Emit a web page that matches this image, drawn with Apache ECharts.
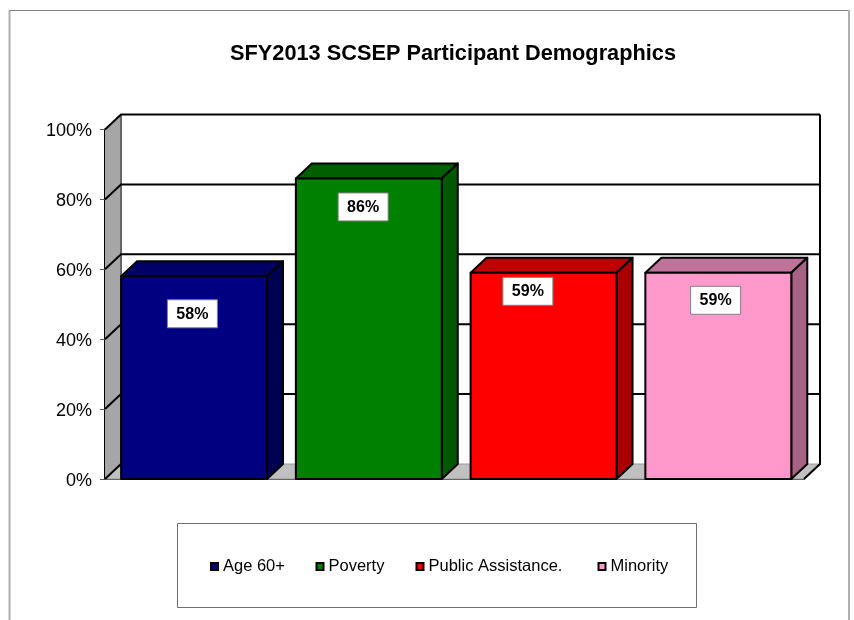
<!DOCTYPE html>
<html>
<head>
<meta charset="utf-8">
<title>SFY2013 SCSEP Participant Demographics</title>
<script src="https://cdn.jsdelivr.net/npm/echarts@6/dist/echarts.min.js"></script>
<style>
  html, body { margin: 0; padding: 0; background: #fff; }
  #chart { width: 854px; height: 620px; }
</style>
</head>
<body>
<div id="chart"></div>
<script>
var categories = ['Age 60+', 'Poverty', 'Public Assistance.', 'Minority'];
var values = [58, 86, 59, 59];
var yTicks = [0, 20, 40, 60, 80, 100];

var frontColors = ['#000080', '#008000', '#ff0000', '#ff99cc'];
var topColors = ['#000066', '#006000', '#c00000', '#c0739a'];
var sideColors = ['#000050', '#005800', '#a80000', '#a66385'];

// label box offset below the top of each bar, and to the side of its centre
var labelDrop = [38, 29, 19, 28];
var labelShift = [0, -4, -14, -1];
var legendLeft = [210, 315.5, 415.5, 597.5];

var DX = 16, DY = -15;
var FONT = '"Liberation Sans", Arial, sans-serif';

var myChart = echarts.init(document.getElementById('chart'));

function renderWall(params, api) {
    var v = api.value(0);
    var cs = params.coordSys;
    var y = api.coord([0, v])[1];
    var left = cs.x, right = cs.x + cs.width;
    var lineStyle = { stroke: '#000', lineWidth: 2, fill: null };
    var children = [];
    if (v === 0) {
        var top = api.coord([0, 100])[1];
        children.push({
            type: 'polygon',
            shape: { points: [[left, y], [left + DX, y + DY], [left + DX, top + DY], [left, top]] },
            style: { fill: '#a6a6a6' }
        });
        children.push({
            type: 'polygon',
            shape: { points: [[left, y], [left + DX, y + DY], [right + DX, y + DY], [right, y]] },
            style: { fill: '#c0c0c0', stroke: '#999', lineWidth: 1 }
        });
        children.push({
            type: 'polyline',
            shape: { points: [[left + DX, top + DY], [left + DX, y + DY]] },
            style: { stroke: '#666', lineWidth: 2, fill: null }
        });
        children.push({
            type: 'polyline',
            shape: { points: [[right, y], [right + DX, y + DY], [right + DX, top + DY]] },
            style: lineStyle
        });
        children.push({
            type: 'polyline',
            shape: { points: [[left, y], [left + DX, y + DY]] },
            style: lineStyle
        });
    } else {
        children.push({
            type: 'polyline',
            shape: { points: [[left, y], [left + DX, y + DY], [right + DX, y + DY]] },
            style: lineStyle
        });
    }
    return { type: 'group', children: children };
}

function renderBar(idx) {
    return function (params, api) {
        var pt = api.coord([api.value(0), api.value(1)]);
        var base = api.coord([api.value(0), 0])[1];
        var w = api.size([1, 0])[0] * 0.835;
        var x0 = pt[0] + 1.7 - w / 2, x1 = x0 + w, y0 = pt[1];
        var edge = { stroke: '#000', lineWidth: 2, lineJoin: 'round' };
        return {
            type: 'group',
            children: [
                {
                    type: 'polygon',
                    shape: { points: [[x0, y0], [x0 + DX, y0 + DY], [x1 + DX, y0 + DY], [x1, y0]] },
                    style: Object.assign({ fill: topColors[idx] }, edge)
                },
                {
                    type: 'polygon',
                    shape: { points: [[x1, y0], [x1 + DX, y0 + DY], [x1 + DX, base + DY], [x1, base]] },
                    style: Object.assign({ fill: sideColors[idx] }, edge)
                },
                {
                    type: 'rect',
                    shape: { x: x0, y: y0, width: w, height: base - y0 },
                    style: Object.assign({ fill: frontColors[idx] }, edge)
                },
                {
                    type: 'rect',
                    shape: { x: pt[0] + labelShift[idx] - 25, y: y0 + labelDrop[idx] - 14.5, width: 50, height: 28 },
                    style: { fill: '#fff', stroke: '#808080', lineWidth: 1 }
                },
                {
                    type: 'text',
                    x: pt[0] + labelShift[idx],
                    y: y0 + labelDrop[idx],
                    style: {
                        text: api.value(1) + '%',
                        fill: '#000',
                        align: 'center',
                        verticalAlign: 'middle',
                        font: 'bold 16px ' + FONT
                    }
                }
            ]
        };
    };
}

var series = [{
    name: 'walls',
    type: 'custom',
    silent: true,
    data: yTicks.map(function (t) { return [t]; }),
    encode: { y: 0 },
    renderItem: renderWall
}];

categories.forEach(function (name, i) {
    series.push({
        name: name,
        type: 'custom',
        silent: true,
        itemStyle: { color: frontColors[i] },
        data: [[i, values[i]]],
        encode: { x: 0, y: 1 },
        renderItem: renderBar(i)
    });
});

var option = {
    backgroundColor: '#fff',
    animation: false,
    textStyle: { fontFamily: FONT },
    title: {
        text: 'SFY2013 SCSEP Participant Demographics',
        left: 448,
        textAlign: 'center',
        top: 38,
        textStyle: { fontFamily: FONT, fontWeight: 'bold', fontSize: 21.75, color: '#000' }
    },
    grid: { left: 105, right: 50, top: 129.5, bottom: 141 },
    xAxis: {
        type: 'category',
        data: categories,
        axisLabel: { show: false },
        axisTick: { show: false },
        axisLine: { show: true, lineStyle: { color: '#333', width: 2 } }
    },
    yAxis: {
        type: 'value',
        min: 0,
        max: 100,
        interval: 20,
        axisLabel: {
            formatter: '{value}%',
            margin: 13,
            color: '#000',
            fontFamily: FONT,
            fontSize: 18,
            verticalAlign: 'top',
            lineHeight: 4
        },
        axisTick: { show: true, length: 5, lineStyle: { color: '#555', width: 1 } },
        axisLine: { show: true, lineStyle: { color: '#000', width: 2 } },
        splitLine: { show: false }
    },
    legend: categories.map(function (name, i) {
        return {
            data: [name],
            left: legendLeft[i],
            top: 558,
            padding: 0,
            icon: 'rect',
            itemWidth: 7,
            itemHeight: 7,
            selectedMode: false,
            itemStyle: { borderColor: '#000', borderWidth: 2 },
            textStyle: { fontFamily: FONT, fontSize: 16.5, color: '#000' }
        };
    }),
    graphic: [
        {
            type: 'polyline',
            silent: true,
            shape: { points: [[9.5, 620], [9.5, 10.5]] },
            style: { stroke: '#b0b0b0', lineWidth: 2, fill: null }
        },
        {
            type: 'polyline',
            silent: true,
            shape: { points: [[9, 10.5], [849, 10.5]] },
            style: { stroke: '#808080', lineWidth: 1, fill: null }
        },
        {
            type: 'polyline',
            silent: true,
            shape: { points: [[849, 10], [849, 620]] },
            style: { stroke: '#b0b0b0', lineWidth: 2, fill: null }
        },
        {
            type: 'rect',
            silent: true,
            shape: { x: 177.5, y: 523.5, width: 519, height: 84 },
            style: { fill: '#fff', stroke: '#707070', lineWidth: 1 }
        }
    ],
    series: series
};

myChart.setOption(option);
</script>
</body>
</html>
